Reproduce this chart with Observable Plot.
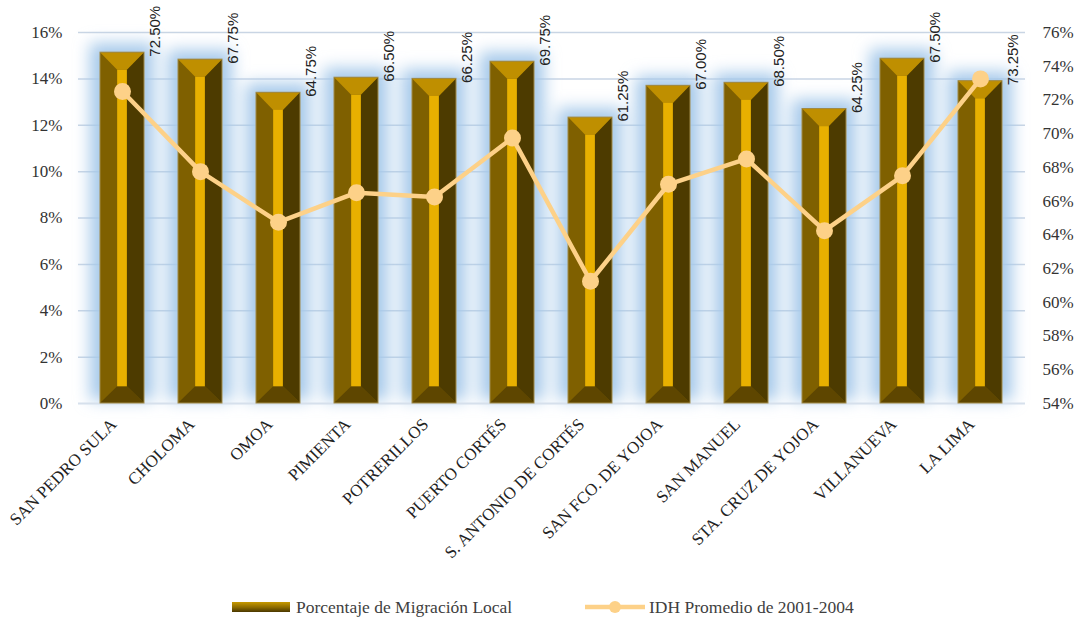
<!DOCTYPE html>
<html><head><meta charset="utf-8">
<script src="https://cdn.jsdelivr.net/npm/d3@7"></script>
<script src="https://cdn.jsdelivr.net/npm/@observablehq/plot@0.6"></script>
<style>
body{margin:0;background:#fff;font-family:"Liberation Serif","Tinos","DejaVu Serif",serif;}
#chart{position:absolute;left:0;top:0;}
#legend{position:absolute;top:596px;left:0;width:1076px;height:22px;font-size:17.5px;color:#404040;}
#legend .item{position:absolute;top:0;display:flex;align-items:center;height:22px;}
#legend .bar{width:58px;height:10px;background:linear-gradient(#c89a00,#8a6a00 55%,#4a3800);margin-right:6px;}
</style></head><body>
<div id="chart"></div>
<div id="legend"></div>
<script>
const municipios = ["SAN PEDRO SULA","CHOLOMA","OMOA","PIMIENTA","POTRERILLOS","PUERTO CORTÉS","S. ANTONIO DE CORTÉS","SAN FCO. DE YOJOA","SAN MANUEL","STA. CRUZ DE YOJOA","VILLANUEVA","LA LIMA"];
const migracion = [15.13, 14.83, 13.40, 14.05, 14.00, 14.74, 12.33, 13.70, 13.83, 12.70, 14.87, 13.90];
const idh = [72.50, 67.75, 64.75, 66.50, 66.25, 69.75, 61.25, 67.00, 68.50, 64.25, 67.50, 73.25];
const leftTicks = [0, 2, 4, 6, 8, 10, 12, 14, 16];
const rightTicks = [54, 56, 58, 60, 62, 64, 66, 68, 70, 72, 74, 76];
const seriesNames = ["Porcentaje de Migración Local", "IDH Promedio de 2001-2004"];

const leftMax = 16, rightMin = 54, rightMax = 76;
const toLeft = v => (v - rightMin) / (rightMax - rightMin) * leftMax;
const fromLeft = v => v / leftMax * (rightMax - rightMin) + rightMin;
const data = municipios.map((m, i) => ({m, mig: migracion[i], idh: idh[i], idhL: toLeft(idh[i])}));

const lineColor = "#fdd188";
const serifCSS = '"Liberation Serif", "Tinos", "DejaVu Serif", serif';

// 3D bevel facets drawn with the plot's own scales
function bevels(index, scales) {
  const {x, y} = scales;
  const bw = x.bandwidth();
  const g = d3.create("svg:g").attr("aria-label", "bevels");
  for (const d of data) {
    const x0 = x(d.m), x1 = x0 + bw, xc = x0 + bw / 2;
    const yT = y(d.mig), yB = y(0);
    const sw = bw * 0.22, dt = bw * 0.40, db = bw * 0.38;
    const sl = xc - sw / 2, sr = xc + sw / 2;
    const poly = (pts, fill) => g.append("polygon").attr("points", pts.map(p => p.join(",")).join(" ")).attr("fill", fill);
    poly([[sr, yT + dt], [x1, yT], [x1, yB], [sr, yB - db]], "#4d3b00");
    poly([[x0, yT], [x1, yT], [sr, yT + dt], [sl, yT + dt]], "#bf8f00");
    poly([[x0, yB], [x1, yB], [sr, yB - db], [sl, yB - db]], "#5e4600");
    g.append("rect").attr("x", sl).attr("y", yT + dt).attr("width", sw).attr("height", Math.max(0, yB - db - yT - dt)).attr("fill", "#e8b000");
    g.append("rect").attr("x", x0).attr("y", yT).attr("width", bw).attr("height", yB - yT).attr("fill", "none").attr("stroke", "#a08a48").attr("stroke-width", 1);
  }
  return g.node();
}

const chart = Plot.plot({
  width: 1076,
  height: 590,
  marginLeft: 78,
  marginRight: 51,
  marginTop: 32,
  marginBottom: 187,
  style: {fontSize: "17px", color: "#333", background: "transparent"},
  x: {domain: municipios, paddingInner: 0.43, paddingOuter: 0.215},
  y: {domain: [0, leftMax]},
  marks: [
    Plot.ruleY(leftTicks.slice(1), {stroke: "#c9d5e4", strokeWidth: 1.5}),
    Plot.barY(data, {x: "m", y: "mig", fill: "#a6c9ea", insetLeft: -10, insetRight: -10, insetTop: -9, insetBottom: 3}),
    Plot.ruleY([0], {stroke: "#d6e0ec", strokeWidth: 2}),
    Plot.barY(data, {x: "m", y: "mig", fill: "#7f6000"}),
    bevels,
    Plot.line(data, {x: "m", y: "idhL", stroke: lineColor, strokeWidth: 4.5}),
    Plot.dot(data, {x: "m", y: "idhL", r: 8.5, fill: lineColor}),
    Plot.text(data, {x: "m", y: "mig", text: d => d.idh.toFixed(2) + "%", rotate: -90, textAnchor: "start", dx: 33, dy: 4, fontSize: 15, fill: "#222", fontFamily: "Liberation Sans"}),
    Plot.axisY(leftTicks, {anchor: "left", tickSize: 0, tickPadding: 16, tickFormat: d => d + "%", label: null, fontSize: 17, fill: "#333"}),
    Plot.axisY(rightTicks.map(toLeft), {anchor: "right", tickSize: 0, tickPadding: 17, tickFormat: d => Math.round(fromLeft(d)) + "%", label: null, fontSize: 17, fill: "#333"}),
    Plot.axisX({tickSize: 0, tickPadding: 12, tickRotate: -45, label: null, fontSize: 17, fill: "#222", dx: -9, dy: 6})
  ]
});

const svg = d3.select(chart);
// serif font for axis labels (set directly on the text nodes)
svg.selectAll('g[aria-label*="axis"] text').style("font-family", serifCSS);
svg.selectAll('g[aria-label*="axis"]').style("font-family", serifCSS);

// soft blue glow behind bars (first bar mark group)
const defs = svg.insert("defs", ":first-child");
defs.append("filter").attr("id", "glowBlur").attr("x", "-50%").attr("y", "-50%").attr("width", "200%").attr("height", "200%")
  .append("feGaussianBlur").attr("stdDeviation", 8);
const barGroups = svg.selectAll('g[aria-label="bar"]').nodes();
if (barGroups.length) d3.select(barGroups[0]).attr("filter", "url(#glowBlur)");

document.getElementById("chart").append(chart);

// legend
const legend = d3.select("#legend");
const it1 = legend.append("div").attr("class", "item").style("left", "232px");
it1.append("div").attr("class", "bar");
it1.append("span").text(seriesNames[0]);
const it2 = legend.append("div").attr("class", "item").style("left", "585px");
const sv = it2.append("svg").attr("width", 62).attr("height", 22).style("margin-right", "2px");
sv.append("line").attr("x1", 0).attr("x2", 60).attr("y1", 11).attr("y2", 11).attr("stroke", lineColor).attr("stroke-width", 4.5);
sv.append("circle").attr("cx", 30).attr("cy", 11).attr("r", 6).attr("fill", lineColor);
it2.append("span").text(seriesNames[1]);
</script>
</body></html>
